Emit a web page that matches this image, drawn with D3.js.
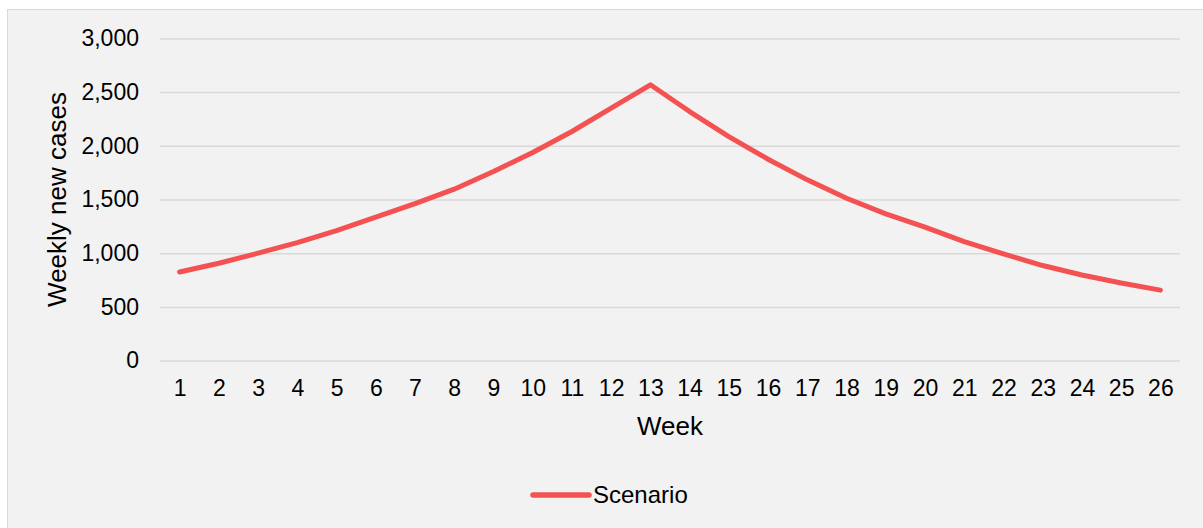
<!DOCTYPE html>
<html>
<head>
<meta charset="utf-8">
<script src="https://cdn.jsdelivr.net/npm/d3@7"></script>
<style>
  html, body { margin: 0; padding: 0; background: #ffffff; }
  svg { display: block; }
  text { font-family: "Liberation Sans", Arial, sans-serif; fill: #000; }
</style>
</head>
<body>
<svg id="chart" width="1203" height="528"></svg>
<script>
// Weekly new cases for the scenario, weeks 1-26
const weeks = d3.range(1, 27);
const cases = [825, 906, 1000, 1099, 1210, 1335, 1462, 1596, 1760, 1937, 2133, 2350, 2568,
               2319, 2086, 1875, 1683, 1512, 1366, 1242, 1108, 993, 885, 797, 722, 656];
const yTicks = [0, 500, 1000, 1500, 2000, 2500, 3000];
const seriesName = "Scenario";
const xTitle = "Week";
const yTitle = "Weekly new cases";

const W = 1203, H = 528;
const plot = { left: 160, right: 1180, top: 38.4, bottom: 360.6 };
const lineColor = "#f45252";
const gridColor = "#d9d9d9";

const svg = d3.select("#chart");

// chart area background with a thin border
svg.append("rect")
  .attr("x", 7.5).attr("y", 9.5)
  .attr("width", W).attr("height", H)
  .attr("fill", "#f2f2f2")
  .attr("stroke", gridColor).attr("stroke-width", 1);

const x = d3.scalePoint().domain(weeks).range([plot.left, plot.right]).padding(0.5);
const y = d3.scaleLinear().domain([0, 3000]).range([plot.bottom, plot.top]);

// horizontal gridlines + y labels
const yAxis = d3.axisLeft(y)
  .tickValues(yTicks)
  .tickSize(-(plot.right - plot.left))
  .tickPadding(21)
  .tickFormat(d3.format(","));
const gy = svg.append("g").attr("transform", `translate(${plot.left},0)`).call(yAxis);
gy.select(".domain").remove();
gy.selectAll(".tick line").attr("stroke", gridColor).attr("stroke-width", 1.5);
gy.selectAll(".tick text")
  .attr("font-size", 23).attr("fill", "#000")
  .attr("font-family", "Liberation Sans, Arial, sans-serif");

// week labels
const xAxis = d3.axisBottom(x).tickSize(0).tickPadding(19);
const gx = svg.append("g").attr("transform", `translate(0,${plot.bottom})`).call(xAxis);
gx.select(".domain").remove();
gx.selectAll(".tick text")
  .attr("font-size", 23).attr("fill", "#000")
  .attr("font-family", "Liberation Sans, Arial, sans-serif");

// axis titles
svg.append("text")
  .attr("x", (plot.left + plot.right) / 2).attr("y", 435)
  .attr("text-anchor", "middle").attr("font-size", 26)
  .text(xTitle);
svg.append("text")
  .attr("transform", `translate(65.5,199.5) rotate(-90)`)
  .attr("text-anchor", "middle").attr("font-size", 26)
  .text(yTitle);

// the series line
const line = d3.line().x((d, i) => x(weeks[i])).y(d => y(d));
svg.append("path")
  .datum(cases)
  .attr("d", line)
  .attr("fill", "none")
  .attr("stroke", lineColor)
  .attr("stroke-width", 5)
  .attr("stroke-linecap", "round")
  .attr("stroke-linejoin", "round");

// legend
const lg = svg.append("g").attr("transform", "translate(533,495)");
lg.append("line")
  .attr("x1", 0).attr("x2", 56).attr("y1", 0).attr("y2", 0)
  .attr("stroke", lineColor).attr("stroke-width", 5.5)
  .attr("stroke-linecap", "round");
lg.append("text")
  .attr("x", 60).attr("y", 8)
  .attr("font-size", 24)
  .text(seriesName);
</script>
</body>
</html>
